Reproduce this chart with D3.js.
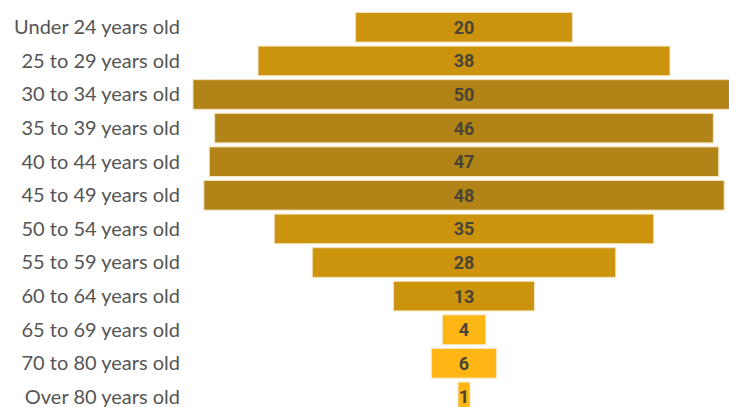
<!DOCTYPE html>
<html>
<head>
<meta charset="utf-8">
<script src="https://cdn.jsdelivr.net/npm/d3@7"></script>
<style>
  html, body { margin: 0; padding: 0; background: #fff; }
  svg { display: block; }
</style>
</head>
<body>
<svg id="chart" width="729" height="407"></svg>
<script>
const categories = [
  "Under 24 years old", "25 to 29 years old", "30 to 34 years old", "35 to 39 years old",
  "40 to 44 years old", "45 to 49 years old", "50 to 54 years old", "55 to 59 years old",
  "60 to 64 years old", "65 to 69 years old", "70 to 80 years old", "Over 80 years old"
];
const values = [20, 38, 50, 46, 47, 48, 35, 28, 13, 4, 6, 1];
const colorBreaks = [10, 40];
const colorRange = ["#fdb614", "#cc930d", "#b28316"];

const svg = d3.select("#chart");

const centerX = 464;
const pitch = 33.6;
const w = d3.scaleLinear().domain([0, 50]).range([0, 542]);
const yb = d3.scaleBand().domain(categories)
  .range([10.5, 10.5 + pitch * categories.length])
  .paddingInner(4 / pitch).paddingOuter(2 / pitch);
const color = d3.scaleThreshold().domain(colorBreaks).range(colorRange);

const rows = svg.selectAll("g.row").data(categories).enter().append("g").attr("class", "row");

rows.append("rect")
  .attr("x", (d, i) => centerX - Math.max(w(values[i]), 12) / 2)
  .attr("y", d => yb(d))
  .attr("width", (d, i) => Math.max(w(values[i]), 12))
  .attr("height", yb.bandwidth())
  .attr("fill", (d, i) => color(values[i]))
  .attr("stroke", "#f3e4bf")
  .attr("stroke-width", 1);

rows.append("text")
  .attr("x", centerX)
  .attr("y", d => yb(d) + yb.bandwidth() / 2)
  .attr("dy", "0.36em")
  .attr("text-anchor", "middle")
  .attr("font-family", "Roboto, sans-serif")
  .attr("font-weight", "bold")
  .attr("font-size", "18px")
  .attr("fill", "#4a4436")
  .text((d, i) => values[i]);

rows.append("text")
  .attr("x", 180)
  .attr("y", d => yb(d) + yb.bandwidth() / 2)
  .attr("dy", "0.34em")
  .attr("text-anchor", "end")
  .attr("font-family", "Lato, sans-serif")
  .attr("font-size", "20px")
  .attr("fill", "#555")
  .text(d => d);
</script>
</body>
</html>
